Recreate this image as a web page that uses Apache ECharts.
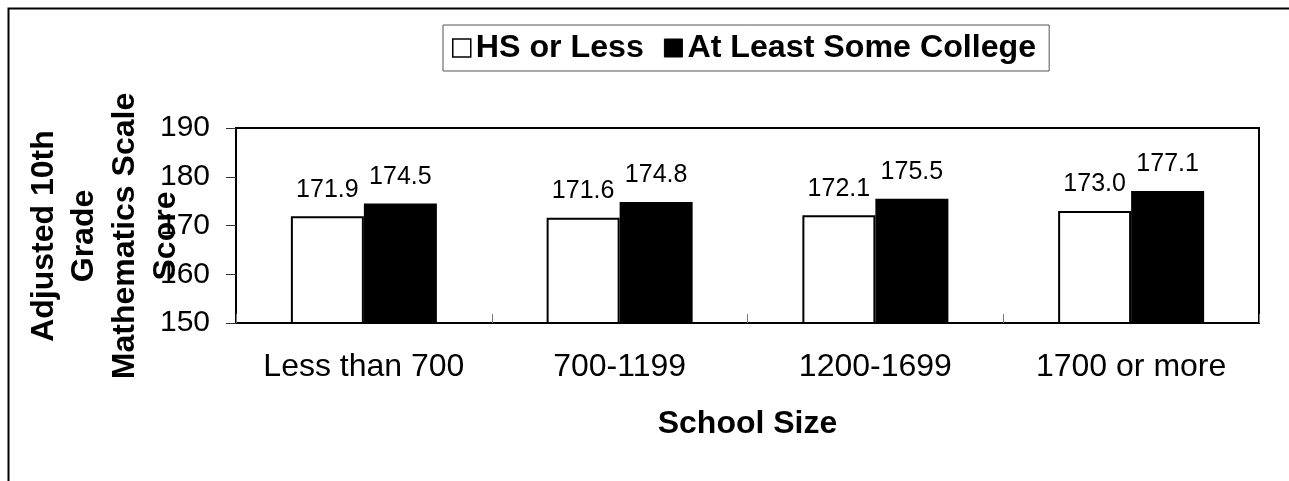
<!DOCTYPE html>
<html>
<head>
<meta charset="utf-8">
<script src="https://cdn.jsdelivr.net/npm/echarts@6/dist/echarts.min.js"></script>
<style>
html,body{margin:0;padding:0;background:#fff;}
#chart{width:1289px;height:481px;}
</style>
</head>
<body>
<div id="chart"></div>
<script>
const categories = ['Less than 700', '700-1199', '1200-1699', '1700 or more'];
const hsOrLess = [171.9, 171.6, 172.1, 173.0];
const someCollege = [174.5, 174.8, 175.5, 177.1];
const seriesNames = ['HS or Less', 'At Least Some College'];
const yTitle = 'Adjusted 10th\nGrade\nMathematics Scale\nScore';
const xTitle = 'School Size';

const FONT = "'Liberation Sans', Arial, sans-serif";
const chart = echarts.init(document.getElementById('chart'), null, {renderer: 'canvas'});

const labelCfg = {
  show: true,
  position: 'top',
  distance: 14,
  color: '#000',
  fontFamily: FONT,
  fontSize: 25,
  formatter: p => p.value.toFixed(1)
};

chart.setOption({
  animation: false,
  backgroundColor: '#fff',
  graphic: [
    {
      type: 'rect',
      shape: {x: 8.5, y: 8.5, width: 1400, height: 600},
      style: {fill: 'none', stroke: '#000', lineWidth: 2},
      silent: true
    },
    {
      type: 'text',
      x: 105,
      y: 236,
      rotation: Math.PI / 2,
      style: {
        text: yTitle,
        fontFamily: FONT,
        fontWeight: 'bold',
        fontSize: 32,
        lineHeight: 40.7,
        align: 'center',
        verticalAlign: 'middle',
        fill: '#000'
      },
      silent: true
    }
  ],
  legend: {
    left: 443,
    top: 25,
    padding: [5, 13, 5, 9],
    itemWidth: 18,
    itemHeight: 18,
    itemGap: 20,
    borderColor: '#555',
    borderWidth: 1,
    backgroundColor: '#fff',
    icon: 'rect',
    textStyle: {
      fontFamily: FONT,
      fontWeight: 'bold',
      fontSize: 32.2,
      lineHeight: 36,
      color: '#000'
    },
    data: [
      {name: seriesNames[0], itemStyle: {color: '#fff', borderColor: '#000', borderWidth: 1.5}},
      {name: seriesNames[1], itemStyle: {color: '#000', borderColor: '#000', borderWidth: 1}}
    ]
  },
  grid: {
    left: 236,
    right: 30,
    top: 128,
    bottom: 158,
    show: true,
    borderColor: '#000',
    borderWidth: 2,
    backgroundColor: 'transparent'
  },
  xAxis: {
    type: 'category',
    data: categories,
    name: xTitle,
    nameLocation: 'middle',
    nameGap: 85,
    nameTextStyle: {fontFamily: FONT, fontWeight: 'bold', fontSize: 32, color: '#000'},
    axisLine: {lineStyle: {color: '#000', width: 2}},
    axisTick: {show: true, inside: true, length: 9, interval: 0, lineStyle: {color: '#777', width: 1}},
    axisLabel: {fontFamily: FONT, fontSize: 32, color: '#000', margin: 28, interval: 0, hideOverlap: false},
    splitLine: {show: false}
  },
  yAxis: {
    type: 'value',
    min: 150,
    max: 190,
    interval: 10,
    axisLine: {show: true, lineStyle: {color: '#000', width: 2}},
    axisTick: {show: true, inside: false, length: 10, lineStyle: {color: '#333', width: 1}},
    axisLabel: {fontFamily: FONT, fontSize: 30, color: '#000', margin: 26},
    splitLine: {show: false}
  },
  series: [
    {
      name: seriesNames[0],
      type: 'bar',
      data: hsOrLess,
      barWidth: 73,
      barGap: '0%',
      itemStyle: {color: '#fff', borderColor: '#000', borderWidth: 2},
      label: labelCfg
    },
    {
      name: seriesNames[1],
      type: 'bar',
      data: someCollege,
      barWidth: 73,
      barGap: '0%',
      itemStyle: {color: '#000', borderColor: '#000', borderWidth: 2},
      label: labelCfg
    }
  ]
});
</script>
</body>
</html>
